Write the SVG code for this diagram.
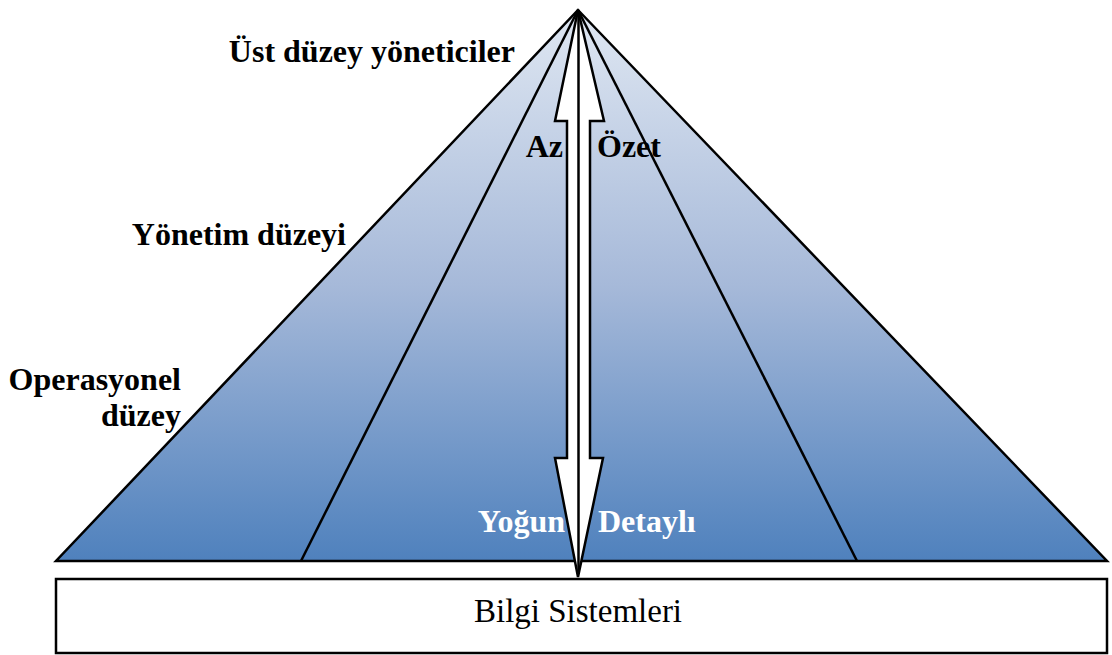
<svg xmlns="http://www.w3.org/2000/svg" width="1112" height="655" viewBox="0 0 1112 655">
  <defs>
    <linearGradient id="pyrFill" x1="0" y1="0" x2="0" y2="1">
      <stop offset="0" stop-color="#dfe7f2"/>
      <stop offset="0.5" stop-color="#a6b9d9"/>
      <stop offset="1" stop-color="#4f81bd"/>
    </linearGradient>
    <style>
      .edge { fill: none; stroke: #000; stroke-width: 2.5; stroke-linejoin: miter; }
      .lbl { font-family: "Liberation Serif", "Times New Roman", serif; font-weight: bold; font-size: 32px; fill: #000; }
      .lbl-w { font-family: "Liberation Serif", "Times New Roman", serif; font-weight: bold; font-size: 32px; fill: #fff; }
      .box-txt { font-family: "Liberation Serif", "Times New Roman", serif; font-size: 33px; fill: #000; }
    </style>
  </defs>

  <!-- pyramid body -->
  <g id="pyramid">
    <polygon points="578,10 1107,561 56,561" fill="url(#pyrFill)" stroke="#000" stroke-width="2.5" stroke-linejoin="miter"/>
  </g>

  <!-- dividing lines between levels -->
  <g id="connectors">
    <line class="edge" x1="578" y1="10" x2="301" y2="561"/>
    <line class="edge" x1="578" y1="10" x2="857" y2="561"/>
  </g>

  <!-- double-headed arrow: summary at top, detail at bottom -->
  <g id="arrow">
    <polygon points="578,10 604,121 590,121 590,458 603,458 578,577 555,458 567,458 567,121 555,121" fill="#fff" stroke="#000" stroke-width="2.5" stroke-linejoin="miter"/>
    <line class="edge" x1="578.5" y1="12" x2="578.5" y2="574"/>
  </g>

  <!-- level labels -->
  <g id="label-top">
    <text class="lbl" x="515" y="62" text-anchor="end">Üst düzey yöneticiler</text>
  </g>
  <g id="label-mid">
    <text class="lbl" x="346" y="245" text-anchor="end">Yönetim düzeyi</text>
  </g>
  <g id="label-bottom">
    <text class="lbl" x="181" y="390" text-anchor="end">Operasyonel</text>
    <text class="lbl" x="181" y="426" text-anchor="end">düzey</text>
  </g>

  <!-- arrow annotations -->
  <g id="label-az">
    <text class="lbl" x="563" y="157" text-anchor="end">Az</text>
  </g>
  <g id="label-ozet">
    <text class="lbl" x="597" y="157">Özet</text>
  </g>
  <g id="label-yogun">
    <text class="lbl-w" x="565" y="532" text-anchor="end">Yoğun</text>
  </g>
  <g id="label-detayli">
    <text class="lbl-w" x="598" y="532">Detaylı</text>
  </g>

  <!-- base box -->
  <g id="bilgi-sistemleri">
    <rect x="56" y="579" width="1051" height="74" fill="#fff" stroke="#000" stroke-width="2.5"/>
    <text class="box-txt" x="578" y="622" text-anchor="middle">Bilgi Sistemleri</text>
  </g>
</svg>
